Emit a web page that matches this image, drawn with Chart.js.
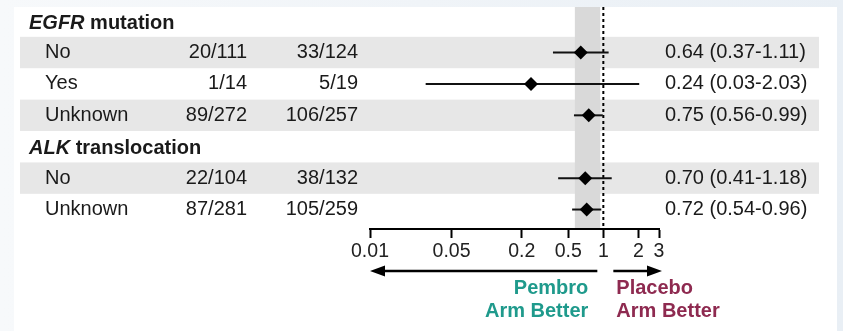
<!DOCTYPE html>
<html>
<head>
<meta charset="utf-8">
<script src="https://cdn.jsdelivr.net/npm/chart.js@4"></script>
<style>
  html, body { margin: 0; padding: 0; background: #f3f6f9; }
  #wrap { width: 843px; height: 331px; position: relative; }
</style>
</head>
<body>
<div id="wrap"><canvas id="canvas" width="843" height="331"></canvas></div>
<script>
// rows of the forest plot
var rowLabels = ['No', 'Yes', 'Unknown', 'No', 'Unknown'];
var rowPos = [1, 2, 3, 5, 6];
var shadedRows = [1, 3, 5];
var headerItalic = ['EGFR', 'ALK'];
var headerRest = [' mutation', ' translocation'];
var headerPos = [0, 4];
var pembroEvents = ['20/111', '1/14', '89/272', '22/104', '87/281'];
var placeboEvents = ['33/124', '5/19', '106/257', '38/132', '105/259'];
var hr = [0.64, 0.24, 0.75, 0.70, 0.72];
var ciLow = [0.37, 0.03, 0.56, 0.41, 0.54];
var ciHigh = [1.11, 2.03, 0.99, 1.18, 0.96];
var tickValues = [0.01, 0.05, 0.2, 0.5, 1, 2, 3];
var overallBand = [0.57, 0.94];

var FONT = '"Liberation Sans", Arial, sans-serif';

var datasets = [{
    label: 'HR',
    data: hr.map(function (v, i) { return { x: v, y: rowPos[i] }; }),
    pointStyle: 'rectRot',
    pointRadius: 7,
    pointHoverRadius: 7,
    backgroundColor: '#000',
    borderColor: '#000',
    borderWidth: 0,
    order: 0
}];
rowPos.forEach(function (p, i) {
    datasets.push({
        label: 'CI ' + i,
        data: [{ x: ciLow[i], y: p }, { x: ciHigh[i], y: p }],
        showLine: true,
        pointRadius: 0,
        borderColor: '#111',
        borderWidth: 2,
        order: 1
    });
});

var forestPlugin = {
    id: 'forest',
    beforeDraw: function (chart) {
        var c = chart.ctx, xs = chart.scales.x, ys = chart.scales.y, ca = chart.chartArea;
        c.save();
        var g = c.createLinearGradient(0, 0, 843, 0);
        g.addColorStop(0, '#f7f9fb');
        g.addColorStop(1, '#e9eff5');
        c.fillStyle = g;
        c.fillRect(0, 0, 843, 331);
        c.fillStyle = '#fff';
        c.fillRect(14, 7, 823, 331);
        // shaded rows
        c.fillStyle = '#e7e7e7';
        shadedRows.forEach(function (r) {
            var t = ys.getPixelForValue(r - 0.5), b = ys.getPixelForValue(r + 0.5);
            c.fillRect(20, t, 799, b - t);
        });
        // overall band
        var bl = xs.getPixelForValue(overallBand[0]), br = xs.getPixelForValue(overallBand[1]);
        c.fillStyle = '#d9d9d9';
        c.fillRect(bl, ca.top, br - bl, ca.bottom - ca.top);
        // line of no effect
        var x1 = xs.getPixelForValue(1);
        c.strokeStyle = '#000';
        c.lineWidth = 2;
        c.setLineDash([3, 3]);
        c.beginPath();
        c.moveTo(x1, ca.top);
        c.lineTo(x1, ca.bottom);
        c.stroke();
        c.restore();
    },
    afterDraw: function (chart) {
        var c = chart.ctx, xs = chart.scales.x, ys = chart.scales.y;
        c.save();
        c.fillStyle = '#1a1a1a';
        c.textBaseline = 'middle';
        // headers
        headerPos.forEach(function (p, i) {
            var y = ys.getPixelForValue(p) + 2;
            c.textAlign = 'left';
            c.font = 'italic bold 20px ' + FONT;
            c.fillText(headerItalic[i], 29, y);
            var w = c.measureText(headerItalic[i]).width;
            c.font = 'bold 20px ' + FONT;
            c.fillText(headerRest[i], 29 + w, y);
        });
        c.font = '20px ' + FONT;
        rowPos.forEach(function (p, i) {
            var y = ys.getPixelForValue(p);
            c.textAlign = 'left';
            c.fillText(rowLabels[i], 45, y);
            c.textAlign = 'right';
            c.fillText(pembroEvents[i], 247, y);
            c.fillText(placeboEvents[i], 358, y);
            c.textAlign = 'left';
            c.fillText(hr[i].toFixed(2) + ' (' + ciLow[i].toFixed(2) + '-' + ciHigh[i].toFixed(2) + ')', 665, y);
        });
        // arrows
        var x1 = xs.getPixelForValue(1), xl = xs.getPixelForValue(tickValues[0]), xr = xs.getPixelForValue(3);
        var ay = 271;
        c.strokeStyle = '#000';
        c.fillStyle = '#000';
        c.lineWidth = 2.5;
        c.beginPath();
        c.moveTo(x1 - 6, ay); c.lineTo(xl + 10, ay);
        c.moveTo(x1 + 10, ay); c.lineTo(xr - 6, ay);
        c.stroke();
        c.beginPath();
        c.moveTo(xl, ay); c.lineTo(xl + 15, ay - 5.5); c.lineTo(xl + 15, ay + 5.5); c.closePath();
        c.moveTo(xr + 3, ay); c.lineTo(xr - 12, ay - 5.5); c.lineTo(xr - 12, ay + 5.5); c.closePath();
        c.fill();
        // arm labels
        c.font = 'bold 20px ' + FONT;
        c.fillStyle = '#1f9a8c';
        c.textAlign = 'right';
        c.fillText('Pembro', x1 - 15, 288);
        c.fillText('Arm Better', x1 - 15, 311);
        c.fillStyle = '#8e2a50';
        c.textAlign = 'left';
        c.fillText('Placebo', x1 + 13, 288);
        c.fillText('Arm Better', x1 + 13, 311);
        c.restore();
    }
};

var ctx = document.getElementById('canvas').getContext('2d');
var myChart = new Chart(ctx, {
    type: 'scatter',
    data: { datasets: datasets },
    options: {
        responsive: false,
        animation: false,
        events: [],
        layout: { padding: { left: 370, right: 184, top: 7, bottom: 0 } },
        plugins: { legend: { display: false }, tooltip: { enabled: false } },
        scales: {
            x: {
                type: 'logarithmic',
                min: 0.01,
                max: 3,
                afterBuildTicks: function (scale) {
                    scale.ticks = tickValues.map(function (v) { return { value: v }; });
                },
                afterFit: function (scale) { scale.height = 102; },
                border: { display: true, color: '#000', width: 2 },
                grid: { drawOnChartArea: false, drawTicks: true, tickLength: 9, tickWidth: 2, tickColor: '#000' },
                ticks: {
                    autoSkip: false,
                    maxRotation: 0,
                    padding: 2,
                    color: '#222',
                    font: { family: FONT, size: 19.5 },
                    callback: function (v) { return String(v); }
                }
            },
            y: {
                type: 'linear',
                reverse: true,
                min: -0.45,
                max: 6.62,
                display: false
            }
        }
    },
    plugins: [forestPlugin]
});
</script>
</body>
</html>
